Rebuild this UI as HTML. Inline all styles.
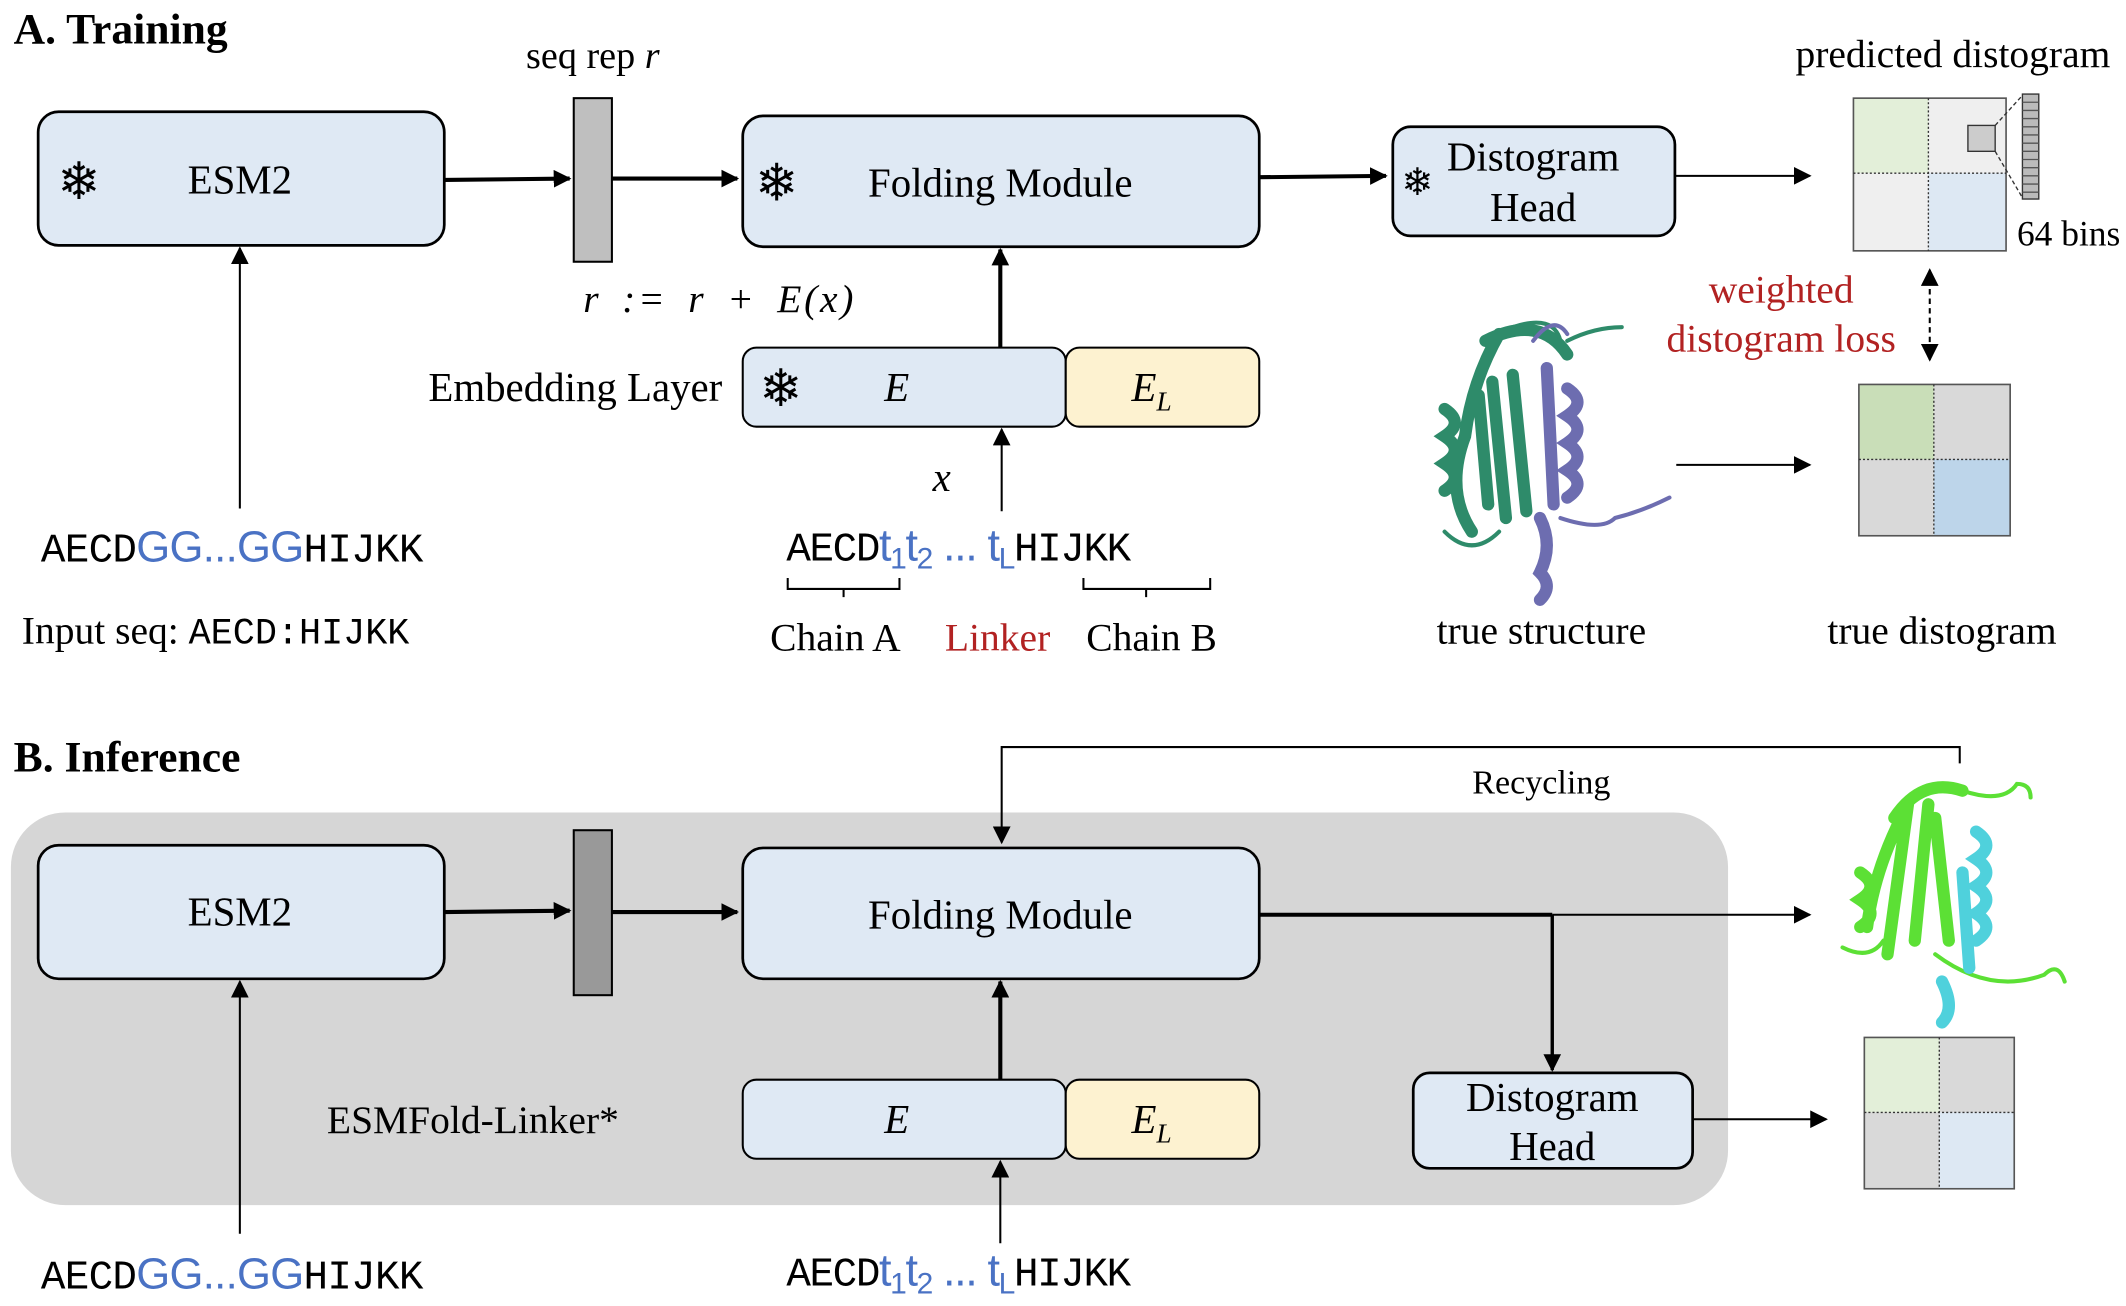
<!DOCTYPE html>
<html><head><meta charset="utf-8"><style>
html,body{margin:0;padding:0;background:#fff;width:2126px;height:1306px;overflow:hidden}
svg{display:block}
text{font-family:"Liberation Serif",serif;fill:#000}
.m{font-family:"Liberation Mono",monospace}
.sf{font-family:"DejaVu Sans",sans-serif}
.bl{fill:#4a72c4;font-family:"Liberation Sans",sans-serif}
</style></head><body>
<svg width="2126" height="1306" viewBox="0 0 1560 958" preserveAspectRatio="none" xmlns="http://www.w3.org/2000/svg">
<defs>
<marker id="a" viewBox="0 0 10 10" refX="9" refY="5" markerWidth="6" markerHeight="6" orient="auto-start-reverse" markerUnits="userSpaceOnUse"><path d="M0,0L10,5L0,10z" fill="#000"/></marker>
<marker id="b" viewBox="0 0 10 10" refX="9" refY="5" markerWidth="13" markerHeight="13" orient="auto-start-reverse" markerUnits="userSpaceOnUse"><path d="M0,0L10,5L0,10z" fill="#000"/></marker>
</defs>
<!-- A -->
<text x="10" y="32" font-size="32" font-weight="bold">A. Training</text>
<rect x="28" y="82" width="298" height="98" rx="15" fill="#dfe9f4" stroke="#000" stroke-width="2"/>
<text x="58" y="146" font-size="38" class="sf" text-anchor="middle">❄</text>
<text x="176" y="142" font-size="30" text-anchor="middle">ESM2</text>
<line x1="326" y1="132" x2="418" y2="131" stroke="#000" stroke-width="3" marker-end="url(#b)"/>
<rect x="421" y="72" width="28" height="120" fill="#bfbfbf" stroke="#000" stroke-width="1.5"/>
<text x="435" y="50" font-size="28" text-anchor="middle">seq rep <tspan font-style="italic">r</tspan></text>
<line x1="449" y1="131" x2="541" y2="131" stroke="#000" stroke-width="3" marker-end="url(#b)"/>
<rect x="545" y="85" width="379" height="96" rx="15" fill="#dfe9f4" stroke="#000" stroke-width="2"/>
<text x="570" y="147" font-size="38" class="sf" text-anchor="middle">❄</text>
<text x="734" y="144" font-size="30" text-anchor="middle">Folding Module</text>
<line x1="924" y1="130" x2="1017" y2="129" stroke="#000" stroke-width="3" marker-end="url(#b)"/>
<rect x="1022" y="93" width="207" height="80" rx="13" fill="#dfe9f4" stroke="#000" stroke-width="2"/>
<text x="1040" y="143" font-size="28" class="sf" text-anchor="middle">❄</text>
<text x="1125" y="125" font-size="30" text-anchor="middle">Distogram</text>
<text x="1125" y="162" font-size="30" text-anchor="middle">Head</text>
<line x1="1229" y1="129" x2="1328" y2="129" stroke="#000" stroke-width="1.5" marker-end="url(#b)"/>
<text x="1433" y="49" font-size="29" text-anchor="middle">predicted distogram</text>
<rect x="1360" y="72" width="55" height="55" fill="#e3efd9"/>
<rect x="1415" y="72" width="57" height="55" fill="#efefef"/>
<rect x="1360" y="127" width="55" height="57" fill="#efefef"/>
<rect x="1415" y="127" width="57" height="57" fill="#dde8f3"/>
<rect x="1360" y="72" width="112" height="112" fill="none" stroke="#555" stroke-width="1.2"/>
<line x1="1415" y1="72" x2="1415" y2="184" stroke="#333" stroke-dasharray="1.5,1.5"/>
<line x1="1360" y1="127" x2="1472" y2="127" stroke="#333" stroke-dasharray="1.5,1.5"/>
<rect x="1444" y="92" width="20" height="19" fill="#ccc" stroke="#333"/>
<line x1="1464" y1="92" x2="1484" y2="70" stroke="#333" stroke-dasharray="3,2"/>
<line x1="1464" y1="111" x2="1484" y2="145" stroke="#333" stroke-dasharray="3,2"/>
<rect x="1484" y="69" width="12" height="77" fill="#bbb" stroke="#333"/>
<path d="M1484 75h12M1484 81h12M1484 87h12M1484 93h12M1484 99h12M1484 105h12M1484 111h12M1484 117h12M1484 123h12M1484 129h12M1484 135h12M1484 141h12" stroke="#555" stroke-width="1"/>
<text x="1480" y="180" font-size="26">64 bins</text>
<text x="1307" y="222" font-size="29" text-anchor="middle" style="fill:#b22222">weighted</text>
<text x="1307" y="258" font-size="29" text-anchor="middle" style="fill:#b22222">distogram loss</text>
<line x1="1416" y1="198" x2="1416" y2="264" stroke="#000" stroke-width="1.5" stroke-dasharray="4,3" marker-start="url(#b)" marker-end="url(#b)"/>
<!-- true structure -->
<g fill="none" stroke-linecap="round">
<path d="M1100 245 Q1080 280 1075 320 Q1060 360 1080 390 M1090 250 Q1130 230 1150 260 M1060 300 q15 10 0 20 q15 10 0 20 q15 10 0 20 M1095 280 L1105 380 M1110 275 L1120 375 M1085 290 L1092 370" stroke="#2e8b6a" stroke-width="9"/>
<path d="M1150 250 q20 -10 40 -10 M1110 240 q30 -10 35 10 M1060 390 q20 20 40 0" stroke="#2e8b6a" stroke-width="3"/>
<path d="M1135 270 L1140 370 M1150 285 q15 10 0 20 q15 10 0 20 q15 10 0 20 q15 10 0 20 M1130 380 q10 20 0 40 q10 10 0 20" stroke="#6d6db0" stroke-width="9"/>
<path d="M1145 380 q30 10 40 0 q20 -5 40 -15 M1125 250 q15 -20 25 -5" stroke="#6d6db0" stroke-width="3"/>
</g>
<line x1="1230" y1="341" x2="1328" y2="341" stroke="#000" stroke-width="1.5" marker-end="url(#b)"/>
<rect x="1364" y="282" width="55" height="55" fill="#c9deb8"/>
<rect x="1419" y="282" width="56" height="55" fill="#d9d9d9"/>
<rect x="1364" y="337" width="55" height="56" fill="#d9d9d9"/>
<rect x="1419" y="337" width="56" height="56" fill="#bdd5ea"/>
<rect x="1364" y="282" width="111" height="111" fill="none" stroke="#555" stroke-width="1.2"/>
<line x1="1419" y1="282" x2="1419" y2="393" stroke="#333" stroke-dasharray="1.5,1.5"/>
<line x1="1364" y1="337" x2="1475" y2="337" stroke="#333" stroke-dasharray="1.5,1.5"/>
<text x="1131" y="472" font-size="29" text-anchor="middle">true structure</text>
<text x="1425" y="472" font-size="29" text-anchor="middle">true distogram</text>
<text x="428" y="229" font-size="29" font-style="italic" letter-spacing="2" word-spacing="6">r := r + E(x)</text>
<text x="530" y="294" font-size="30" text-anchor="end">Embedding Layer</text>
<rect x="545" y="255" width="237" height="58" rx="10" fill="#dfe9f4" stroke="#000" stroke-width="1.5"/>
<rect x="782" y="255" width="142" height="58" rx="10" fill="#fdf2d0" stroke="#000" stroke-width="1.5"/>
<text x="573" y="298" font-size="38" class="sf" text-anchor="middle">❄</text>
<text x="658" y="294" font-size="30" font-style="italic" text-anchor="middle">E</text>
<text x="845" y="294" font-size="30" font-style="italic" text-anchor="middle">E<tspan font-size="20" dy="7">L</tspan></text>
<line x1="734" y1="255" x2="734" y2="183" stroke="#000" stroke-width="3" marker-end="url(#b)"/>
<line x1="735" y1="375" x2="735" y2="315" stroke="#000" stroke-width="1.5" marker-end="url(#b)"/>
<text x="691" y="360" font-size="30" font-style="italic" text-anchor="middle">x</text>
<text x="577" y="411" font-size="30" class="m" letter-spacing="-1">AECD<tspan class="bl" font-size="33">t<tspan font-size="22" dy="6">1</tspan><tspan dy="-6">t</tspan><tspan font-size="22" dy="6">2</tspan><tspan dy="-6"> ... t</tspan><tspan font-size="22" dy="6">L</tspan></tspan><tspan dy="-6">HIJKK</tspan></text>
<path d="M578 424v8h82v-8M619 432v6M795 424v8h93v-8M841 432v6" fill="none" stroke="#000" stroke-width="1.5"/>
<text x="613" y="477" font-size="29" text-anchor="middle">Chain A</text>
<text x="732" y="477" font-size="29" text-anchor="middle" style="fill:#b22222">Linker</text>
<text x="845" y="477" font-size="29" text-anchor="middle">Chain B</text>
<line x1="176" y1="373" x2="176" y2="182" stroke="#000" stroke-width="1.5" marker-end="url(#b)"/>
<text x="30" y="412" font-size="30" class="m" letter-spacing="-0.5">AECD<tspan class="bl" font-size="32">GG...GG</tspan>HIJKK</text>
<text x="16" y="472" font-size="29">Input seq: <tspan class="m" font-size="27">AECD:HIJKK</tspan></text>
<!-- B -->
<text x="10" y="566" font-size="32" font-weight="bold">B. Inference</text>
<rect x="8" y="596" width="1260" height="288" rx="40" fill="#d6d6d6"/>
<path d="M1438 560V548H735V618" fill="none" stroke="#000" stroke-width="1.5" marker-end="url(#b)"/>
<text x="1131" y="582" font-size="25" text-anchor="middle">Recycling</text>
<rect x="28" y="620" width="298" height="98" rx="15" fill="#dfe9f4" stroke="#000" stroke-width="2"/>
<text x="176" y="679" font-size="30" text-anchor="middle">ESM2</text>
<line x1="326" y1="669" x2="418" y2="668" stroke="#000" stroke-width="3" marker-end="url(#b)"/>
<rect x="421" y="609" width="28" height="121" fill="#999" stroke="#000" stroke-width="1.5"/>
<line x1="449" y1="669" x2="541" y2="669" stroke="#000" stroke-width="3" marker-end="url(#b)"/>
<rect x="545" y="622" width="379" height="96" rx="15" fill="#dfe9f4" stroke="#000" stroke-width="2"/>
<text x="734" y="681" font-size="30" text-anchor="middle">Folding Module</text>
<line x1="924" y1="671" x2="1139" y2="671" stroke="#000" stroke-width="3"/>
<line x1="1139" y1="671" x2="1328" y2="671" stroke="#000" stroke-width="1.5" marker-end="url(#b)"/>
<line x1="1139" y1="671" x2="1139" y2="785" stroke="#000" stroke-width="2.5" marker-end="url(#b)"/>
<rect x="1037" y="787" width="205" height="70" rx="12" fill="#dfe9f4" stroke="#000" stroke-width="2"/>
<text x="1139" y="815" font-size="30" text-anchor="middle">Distogram</text>
<text x="1139" y="851" font-size="30" text-anchor="middle">Head</text>
<line x1="1242" y1="821" x2="1340" y2="821" stroke="#000" stroke-width="1.5" marker-end="url(#b)"/>
<rect x="1368" y="761" width="55" height="55" fill="#e3efd9"/>
<rect x="1423" y="761" width="55" height="55" fill="#d9d9d9"/>
<rect x="1368" y="816" width="55" height="56" fill="#d9d9d9"/>
<rect x="1423" y="816" width="55" height="56" fill="#dde8f3"/>
<rect x="1368" y="761" width="110" height="111" fill="none" stroke="#555" stroke-width="1.2"/>
<line x1="1423" y1="761" x2="1423" y2="872" stroke="#333" stroke-dasharray="1.5,1.5"/>
<line x1="1368" y1="816" x2="1478" y2="816" stroke="#333" stroke-dasharray="1.5,1.5"/>
<g fill="none" stroke-linecap="round">
<path d="M1395 600 Q1375 640 1370 680 M1365 640 q15 10 0 20 q15 10 0 20 M1400 590 L1385 700 M1415 590 L1405 690 M1420 600 L1430 690 M1440 580 q-30 -10 -50 20" stroke="#5ce035" stroke-width="9"/>
<path d="M1352 695 q20 10 30 -5 M1420 700 q40 30 80 15 q10 -10 15 5 M1440 580 q30 10 40 -5 q10 0 10 10" stroke="#5ce035" stroke-width="3"/>
<path d="M1450 610 q15 10 0 20 q15 10 0 20 q15 10 0 20 q15 10 0 20 M1440 640 L1445 710 M1425 720 q10 20 0 30" stroke="#4fd1dc" stroke-width="9"/>
</g>
<rect x="545" y="792" width="237" height="58" rx="10" fill="#dfe9f4" stroke="#000" stroke-width="1.5"/>
<rect x="782" y="792" width="142" height="58" rx="10" fill="#fdf2d0" stroke="#000" stroke-width="1.5"/>
<text x="658" y="831" font-size="30" font-style="italic" text-anchor="middle">E</text>
<text x="845" y="831" font-size="30" font-style="italic" text-anchor="middle">E<tspan font-size="20" dy="7">L</tspan></text>
<line x1="734" y1="792" x2="734" y2="720" stroke="#000" stroke-width="3" marker-end="url(#b)"/>
<line x1="734" y1="912" x2="734" y2="852" stroke="#000" stroke-width="1.5" marker-end="url(#b)"/>
<text x="347" y="831" font-size="29" text-anchor="middle">ESMFold-Linker*</text>
<line x1="176" y1="905" x2="176" y2="720" stroke="#000" stroke-width="1.5" marker-end="url(#b)"/>
<text x="30" y="945" font-size="30" class="m" letter-spacing="-0.5">AECD<tspan class="bl" font-size="32">GG...GG</tspan>HIJKK</text>
<text x="577" y="943" font-size="30" class="m" letter-spacing="-1">AECD<tspan class="bl" font-size="33">t<tspan font-size="22" dy="6">1</tspan><tspan dy="-6">t</tspan><tspan font-size="22" dy="6">2</tspan><tspan dy="-6"> ... t</tspan><tspan font-size="22" dy="6">L</tspan></tspan><tspan dy="-6">HIJKK</tspan></text>
</svg>
</body></html>
